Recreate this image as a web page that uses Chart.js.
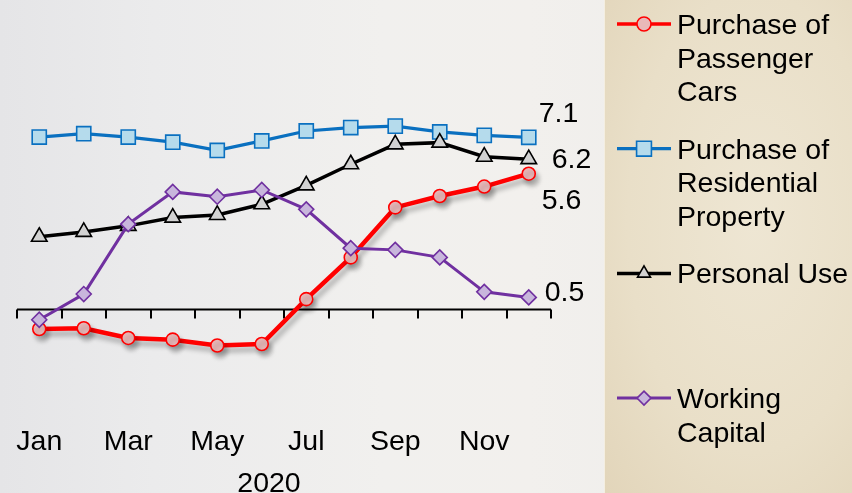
<!DOCTYPE html>
<html>
<head>
<meta charset="utf-8">
<script src="https://cdn.jsdelivr.net/npm/chart.js@4.4.1/dist/chart.umd.min.js"></script>
<style>
  html, body { margin: 0; padding: 0; }
  #wrap { position: relative; width: 852px; height: 493px; overflow: hidden;
    background: linear-gradient(90deg, #e5e5e7 0%, #ebebec 18%, #f1f0ee 45%, #f2f0ed 62%, #ecebea 100%); }
  #panel { position: absolute; left: 604px; top: 0; width: 248px; height: 493px;
    border-left: 1px solid #f4eee0;
    background: radial-gradient(ellipse at 60% 45%, #eee6d3 0%, #e9dfc8 60%, #e2d5ba 100%); }
  canvas { position: absolute; left: 0; top: 0; }
</style>
</head>
<body>
<div id="wrap">
  <div id="panel"></div>
  <canvas id="DataChart" width="852" height="493"></canvas>
</div>
<script>
// months of 2020
const months = ['Jan','Feb','Mar','Apr','May','Jun','Jul','Aug','Sep','Oct','Nov','Dec'];
const yearLabel = '2020';

// series values
const carsValues     = [-0.80, -0.77, -1.17, -1.24, -1.48, -1.42, 0.43, 2.15, 4.21, 4.68, 5.07, 5.60];
const propertyValues = [7.11, 7.25, 7.11, 6.90, 6.56, 6.95, 7.36, 7.50, 7.56, 7.32, 7.18, 7.10];
const personalValues = [3.00, 3.20, 3.45, 3.79, 3.90, 4.34, 5.12, 5.99, 6.81, 6.88, 6.30, 6.20];
const capitalValues  = [-0.42, 0.64, 3.52, 4.85, 4.65, 4.93, 4.13, 2.53, 2.46, 2.15, 0.73, 0.50];

const seriesNames = [
  ['Purchase of', 'Passenger', 'Cars'],
  ['Purchase of', 'Residential', 'Property'],
  ['Personal Use'],
  ['Working', 'Capital']
];
const endLabels = ['5.6', '7.1', '6.2', '0.5'];

const FONT = '"Liberation Sans", Arial, sans-serif';

const lineStyles = [
  { color: '#ff0000', fill: '#e9b8b8', width: 4.5, style: 'circle',   radius: 6.5, legendRadius: 7 },
  { color: '#0a70c0', fill: '#b5dbec', width: 3.2, style: 'rect',     radius: 10,  legendRadius: 10.5 },
  { color: '#000000', fill: '#d2d2d2', width: 3.5, style: 'triangle', radius: 9,   legendRadius: 7.5 },
  { color: '#7030a0', fill: '#c8b6dc', width: 3,   style: 'rectRot',  radius: 7.5, legendRadius: 7 }
];
// where the end value text sits, relative to the last point
const endOffsets = [[13, 35], [10, -15], [23, 9], [16, 4]];

const allValues = [carsValues, propertyValues, personalValues, capitalValues];

const datasets = allValues.map((vals, i) => ({
  label: seriesNames[i].join(' '),
  data: vals,
  borderColor: lineStyles[i].color,
  backgroundColor: lineStyles[i].fill,
  borderWidth: lineStyles[i].width,
  pointStyle: lineStyles[i].style,
  pointRadius: lineStyles[i].radius,
  pointBackgroundColor: lineStyles[i].fill,
  pointBorderColor: lineStyles[i].color,
  pointBorderWidth: 1.6,
  tension: 0,
  fill: false,
  order: 4 - i
}));

// axis line through zero with tick marks between months
const zeroAxis = {
  id: 'zeroAxis',
  beforeDatasetsDraw(chart) {
    const ctx = chart.ctx;
    const xs = chart.scales.x, ys = chart.scales.y;
    const y0 = ys.getPixelForValue(0);
    const step = (xs.right - xs.left) / months.length;
    ctx.save();
    ctx.strokeStyle = '#000';
    ctx.lineWidth = 2;
    ctx.beginPath();
    ctx.moveTo(xs.left, y0);
    ctx.lineTo(xs.right, y0);
    for (let i = 0; i <= months.length; i++) {
      const x = Math.round(xs.left + i * step);
      ctx.moveTo(x, y0);
      ctx.lineTo(x, y0 + 9);
    }
    ctx.stroke();
    ctx.restore();
  }
};

// soft shadow under the red line
const redShadow = {
  id: 'redShadow',
  beforeDatasetDraw(chart, args) {
    if (args.index !== 0) return;
    const ctx = chart.ctx;
    ctx.save();
    ctx.shadowColor = 'rgba(0,0,0,0.28)';
    ctx.shadowBlur = 5;
    ctx.shadowOffsetX = 3;
    ctx.shadowOffsetY = 5;
  },
  afterDatasetDraw(chart, args) {
    if (args.index !== 0) return;
    chart.ctx.restore();
  }
};

// end values, year label and the legend on the right
const extras = {
  id: 'extras',
  afterDraw(chart) {
    const ctx = chart.ctx;
    const xs = chart.scales.x, ys = chart.scales.y;
    ctx.save();
    ctx.fillStyle = '#000';
    ctx.font = '28.5px ' + FONT;
    ctx.textBaseline = 'alphabetic';
    ctx.textAlign = 'left';
    allValues.forEach((vals, i) => {
      const last = vals.length - 1;
      const px = xs.getPixelForValue(last);
      const py = ys.getPixelForValue(vals[last]);
      ctx.fillText(endLabels[i], px + endOffsets[i][0], py + endOffsets[i][1]);
    });

    ctx.textAlign = 'center';
    ctx.fillText(yearLabel, 269, 492);

    // legend
    const rowGap = 124.7, lineGap = 33.6;
    lineStyles.forEach((s, i) => {
      const cy = 24 + i * rowGap;
      ctx.strokeStyle = s.color;
      ctx.lineWidth = Math.min(s.width, 3.5);
      ctx.beginPath();
      ctx.moveTo(617, cy);
      ctx.lineTo(671, cy);
      ctx.stroke();
      ctx.fillStyle = s.fill;
      ctx.strokeStyle = s.color;
      ctx.lineWidth = 1.6;
      Chart.helpers.drawPoint(ctx, {
        pointStyle: s.style,
        radius: s.legendRadius,
        borderWidth: 1.6,
        rotation: 0
      }, 644, cy);
      ctx.fillStyle = '#000';
      ctx.textAlign = 'left';
      seriesNames[i].forEach((t, j) => {
        ctx.fillText(t, 677, cy + 10 + j * lineGap);
      });
    });
    ctx.restore();
  }
};

const config = {
  type: 'line',
  data: { labels: months, datasets: datasets },
  options: {
    responsive: false,
    animation: false,
    layout: { padding: { left: 17, right: 301, top: 28.6, bottom: 26 } },
    plugins: { legend: { display: false }, tooltip: { enabled: false } },
    scales: {
      x: {
        offset: true,
        grid: { display: false, drawTicks: false },
        border: { display: false },
        ticks: {
          autoSkip: false,
          maxRotation: 0,
          padding: 8,
          color: '#000',
          font: { family: FONT, size: 28.5 },
          callback: function (value, index) {
            return index % 2 === 0 ? this.getLabelForValue(value) : '';
          }
        }
      },
      y: {
        display: false,
        min: -4.42,
        max: 11.58
      }
    }
  },
  plugins: [zeroAxis, redShadow, extras]
};

new Chart(document.getElementById('DataChart'), config);
</script>
</body>
</html>
